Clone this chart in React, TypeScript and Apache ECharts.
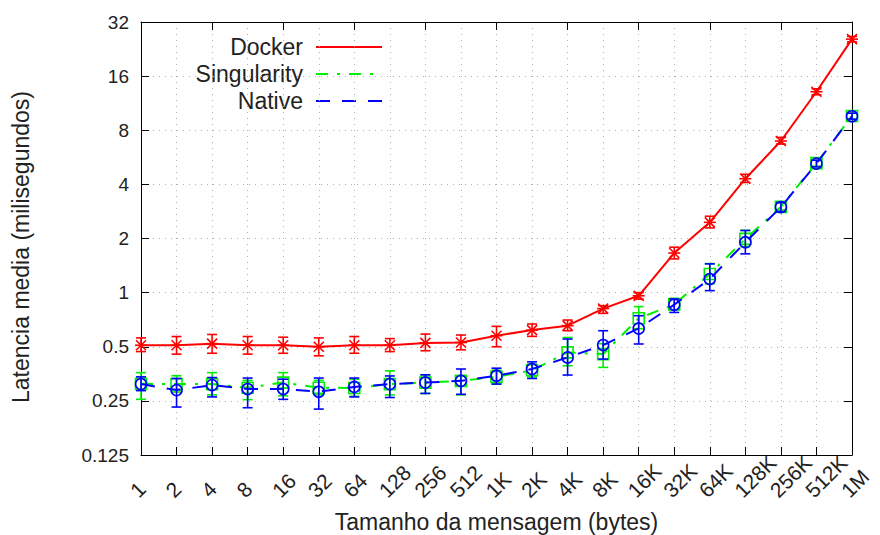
import React, { useEffect, useRef } from 'react';
import * as echarts from 'echarts';

// Message sizes (bytes) on the x axis
const categories = ['1', '2', '4', '8', '16', '32', '64', '128', '256', '512', '1K', '2K', '4K', '8K', '16K', '32K', '64K', '128K', '256K', '512K', '1M'];

// Y axis (log2) tick values
const yTicks = [0.125, 0.25, 0.5, 1, 2, 4, 8, 16, 32];

// Mean latency (ms) with lower/upper error bounds
const dockerMean = [0.51, 0.51, 0.52, 0.51, 0.51, 0.50, 0.51, 0.51, 0.525, 0.528, 0.576, 0.619, 0.655, 0.815, 0.96, 1.66, 2.46, 4.30, 6.97, 13.1, 25.7];
const dockerLow = [0.47, 0.455, 0.46, 0.455, 0.46, 0.445, 0.46, 0.47, 0.475, 0.481, 0.50, 0.571, 0.614, 0.767, 0.92, 1.54, 2.29, 4.10, 6.7, 12.6, 24.8];
const dockerHigh = [0.56, 0.57, 0.585, 0.57, 0.565, 0.56, 0.57, 0.555, 0.588, 0.581, 0.649, 0.669, 0.704, 0.846, 1.0, 1.79, 2.66, 4.55, 7.3, 13.6, 26.6];

const singMean = [0.311, 0.31, 0.31, 0.296, 0.316, 0.296, 0.295, 0.31, 0.316, 0.323, 0.34, 0.37, 0.465, 0.455, 0.72, 0.86, 1.27, 1.99, 3.0, 5.25, 9.6];
const singLow = [0.255, 0.28, 0.27, 0.254, 0.267, 0.27, 0.265, 0.27, 0.275, 0.27, 0.31, 0.34, 0.392, 0.384, 0.63, 0.8, 1.12, 1.8, 2.88, 5.05, 9.25];
const singHigh = [0.359, 0.345, 0.359, 0.325, 0.359, 0.325, 0.33, 0.367, 0.349, 0.344, 0.37, 0.40, 0.563, 0.52, 0.836, 0.93, 1.45, 2.22, 3.15, 5.45, 9.95];

const nativeMean = [0.31, 0.287, 0.306, 0.291, 0.291, 0.281, 0.299, 0.31, 0.316, 0.323, 0.345, 0.376, 0.436, 0.511, 0.632, 0.857, 1.19, 1.907, 2.99, 5.22, 9.57];
const nativeLow = [0.285, 0.231, 0.263, 0.229, 0.255, 0.225, 0.263, 0.261, 0.275, 0.272, 0.31, 0.333, 0.348, 0.427, 0.518, 0.776, 1.026, 1.643, 2.82, 5.0, 9.2];
const nativeHigh = [0.34, 0.333, 0.337, 0.335, 0.330, 0.335, 0.335, 0.344, 0.349, 0.376, 0.38, 0.412, 0.552, 0.614, 0.744, 0.922, 1.445, 2.216, 3.17, 5.45, 9.95];

const FONT = '"Liberation Sans", Arial, Helvetica, sans-serif';
const TEXT = '#222222';
const RED = '#ff0000';
const GREEN = '#00ee00';
const BLUE = '#0000ff';
const DASH_DOT = [12, 9, 3, 9];
const DASH = [14, 12];

type Marker = 'star' | 'square' | 'circle';

function markerShapes(kind: Marker, x: number, y: number, color: string) {
  const style = { stroke: color, lineWidth: 1.6, fill: 'none' };
  if (kind === 'star') {
    const s = 5;
    return [
      { type: 'line', shape: { x1: x - s, y1: y - s, x2: x + s, y2: y + s }, style },
      { type: 'line', shape: { x1: x - s, y1: y + s, x2: x + s, y2: y - s }, style },
      { type: 'line', shape: { x1: x - s - 1, y1: y, x2: x + s + 1, y2: y }, style },
    ];
  }
  const s = 5.5;
  if (kind === 'square') {
    return [{ type: 'rect', shape: { x: x - s, y: y - s, width: 2 * s, height: 2 * s }, style }];
  }
  return [{ type: 'circle', shape: { cx: x, cy: y, r: s }, style }];
}

function errorSeries(name: string, color: string, mean: number[], low: number[], high: number[], kind: Marker, z: number) {
  return {
    type: 'custom',
    name,
    z,
    clip: false,
    data: mean.map((m, i) => [i, m, low[i], high[i]]),
    encode: { x: 0, y: [1, 2, 3] },
    renderItem: (_params: any, api: any) => {
      const i = api.value(0);
      const c = api.coord([i, api.value(1)]);
      const lo = api.coord([i, api.value(2)]);
      const hi = api.coord([i, api.value(3)]);
      const cap = 5;
      const style = { stroke: color, lineWidth: 1.6, fill: 'none' };
      return {
        type: 'group',
        children: [
          { type: 'line', shape: { x1: c[0], y1: lo[1], x2: c[0], y2: hi[1] }, style },
          { type: 'line', shape: { x1: c[0] - cap, y1: lo[1], x2: c[0] + cap, y2: lo[1] }, style },
          { type: 'line', shape: { x1: c[0] - cap, y1: hi[1], x2: c[0] + cap, y2: hi[1] }, style },
          ...markerShapes(kind, c[0], c[1], color),
        ],
      };
    },
  };
}

function lineSeries(name: string, color: string, data: number[], dash: any, z: number) {
  return {
    type: 'line',
    name,
    z,
    data,
    symbol: 'none',
    showSymbol: false,
    lineStyle: { color, width: 2, type: dash },
  };
}

const legendRows = [
  { label: 'Docker', color: RED, dash: null as number[] | null },
  { label: 'Singularity', color: GREEN, dash: DASH_DOT },
  { label: 'Native', color: BLUE, dash: DASH },
];

export default function App() {
  const ref = useRef<HTMLDivElement>(null);

  useEffect(() => {
    if (!ref.current) return;
    const chart = echarts.init(ref.current, null, { renderer: 'svg' });

    const tickLine = { color: '#000', width: 1 };
    const gridDots = { color: '#b0b0b0', width: 1, type: [1, 5] as any };
    const fmt = (v: number) => String(+Number(v).toPrecision(6));

    const graphics: any[] = [];
    legendRows.forEach((r, k) => {
      const y = 47 + k * 27;
      graphics.push({
        type: 'text',
        x: 303,
        y,
        style: {
          text: r.label,
          textAlign: 'right',
          textVerticalAlign: 'middle',
          align: 'right',
          verticalAlign: 'middle',
          fontSize: 23,
          fontFamily: FONT,
          fill: TEXT,
        },
      });
      graphics.push({
        type: 'line',
        shape: { x1: 316, y1: y, x2: 382, y2: y },
        style: { stroke: r.color, lineWidth: 2, lineDash: r.dash || undefined },
      });
    });
    // y axis title, rotated
    graphics.push({
      type: 'text',
      x: 21,
      y: 247,
      rotation: Math.PI / 2,
      style: {
        text: 'Latencia media (milisegundos)',
        textAlign: 'center',
        textVerticalAlign: 'middle',
        align: 'center',
        verticalAlign: 'middle',
        fontSize: 23,
        fontFamily: FONT,
        fill: TEXT,
      },
    });

    chart.setOption({
      animation: false,
      backgroundColor: '#ffffff',
      grid: { left: 141, right: 28, top: 22, bottom: 80, containLabel: false, outerBoundsMode: 'none' },
      xAxis: [
        {
          type: 'category',
          data: categories,
          boundaryGap: false,
          position: 'bottom',
          name: 'Tamanho da mensagem (bytes)',
          nameLocation: 'middle',
          nameGap: 55,
          nameTextStyle: { fontSize: 23, fontFamily: FONT, color: TEXT },
          axisLine: { show: true, lineStyle: tickLine },
          axisTick: { show: true, inside: true, length: 8, alignWithLabel: true, lineStyle: tickLine },
          axisLabel: {
            rotate: 45,
            align: 'left',
            verticalAlign: 'bottom',
            margin: 46,
            interval: 0,
            fontSize: 21,
            fontFamily: FONT,
            color: TEXT,
          },
          splitLine: { show: true, lineStyle: gridDots },
        },
        {
          type: 'category',
          data: categories,
          boundaryGap: false,
          position: 'top',
          axisLine: { show: true, lineStyle: tickLine },
          axisTick: { show: true, inside: true, length: 8, lineStyle: tickLine },
          axisLabel: { show: false },
          splitLine: { show: false },
        },
      ],
      yAxis: [
        {
          type: 'log',
          logBase: 2,
          min: yTicks[0],
          max: yTicks[yTicks.length - 1],
          position: 'left',
          axisLine: { show: true, lineStyle: tickLine },
          axisTick: { show: true, inside: true, length: 8, lineStyle: tickLine },
          axisLabel: { fontSize: 19, fontFamily: FONT, color: TEXT, margin: 12, formatter: fmt },
          splitLine: { show: true, lineStyle: gridDots },
          minorTick: { show: false },
        },
        {
          type: 'log',
          logBase: 2,
          min: yTicks[0],
          max: yTicks[yTicks.length - 1],
          position: 'right',
          axisLine: { show: true, lineStyle: tickLine },
          axisTick: { show: true, inside: true, length: 8, lineStyle: tickLine },
          axisLabel: { show: false },
          splitLine: { show: false },
        },
      ],
      graphic: graphics,
      series: [
        lineSeries('Docker', RED, dockerMean, 'solid', 2),
        errorSeries('Docker', RED, dockerMean, dockerLow, dockerHigh, 'star', 3),
        lineSeries('Singularity', GREEN, singMean, DASH_DOT, 4),
        errorSeries('Singularity', GREEN, singMean, singLow, singHigh, 'square', 5),
        lineSeries('Native', BLUE, nativeMean, DASH, 6),
        errorSeries('Native', BLUE, nativeMean, nativeLow, nativeHigh, 'circle', 7),
      ],
    });

    return () => chart.dispose();
  }, []);

  return <div ref={ref} style={{ position: 'fixed', left: 0, top: 0, width: 880, height: 535 }} />;
}
